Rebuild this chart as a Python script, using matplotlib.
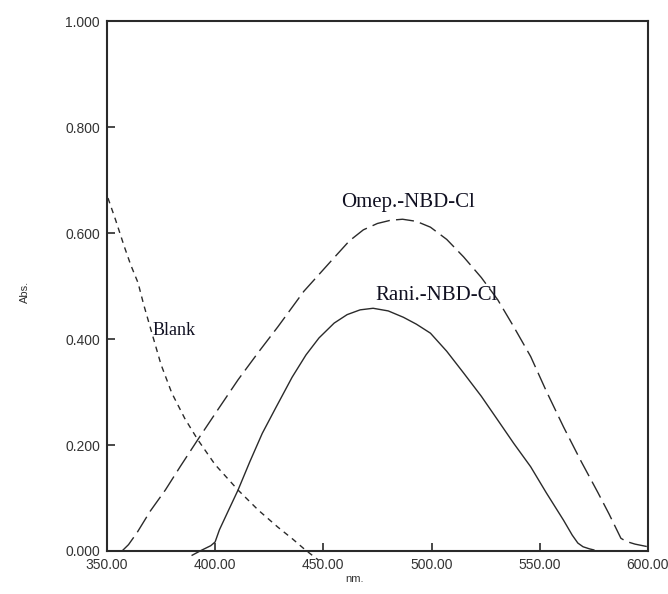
import matplotlib.pyplot as plt

# Omep.-NBD-Cl (long dashes)
omep_nm = [357, 360, 364, 370, 377, 384, 392, 401, 410.6, 420, 429, 441, 454, 462, 468.5,
           475, 481, 486.6, 493, 499.5, 507, 514.8, 523, 530.6, 538, 545.8, 553, 561, 569,
           576.9, 582, 587.5, 590, 594, 600]
omep_abs = [0.0, 0.012, 0.035, 0.075, 0.115, 0.16, 0.21, 0.265, 0.323, 0.375, 0.423, 0.49,
            0.549, 0.585, 0.606, 0.618, 0.624, 0.626, 0.622, 0.611, 0.588, 0.555, 0.516,
            0.474, 0.423, 0.367, 0.302, 0.234, 0.17, 0.11, 0.07, 0.024, 0.018, 0.013, 0.008]

# Rani.-NBD-Cl (solid)
rani_nm = [389.4, 394, 398, 400, 402, 406, 410.6, 416, 421.8, 428, 435.6, 442, 448, 455,
           461, 467, 473, 480, 487, 493, 499.5, 507, 514.8, 523, 530.6, 538, 545.8, 553,
           561, 565, 567.6, 570, 573, 575]
rani_abs = [-0.008, 0.002, 0.01, 0.017, 0.04, 0.075, 0.115, 0.168, 0.222, 0.27, 0.328, 0.37,
            0.402, 0.43, 0.446, 0.455, 0.458, 0.453, 0.441, 0.428, 0.411, 0.377, 0.336,
            0.292, 0.247, 0.203, 0.159, 0.11, 0.058, 0.03, 0.015, 0.008, 0.004, 0.002]

# Blank (short dashes)
blank_nm = [350.5, 354, 358, 361, 364.4, 367, 370.8, 375, 380, 386, 392, 400, 410.6, 420,
            429, 436, 441.7, 447.7]
blank_abs = [0.666, 0.625, 0.575, 0.54, 0.506, 0.465, 0.411, 0.352, 0.298, 0.25, 0.21,
             0.163, 0.115, 0.077, 0.045, 0.022, 0.002, -0.017]

xticks = [350, 400, 450, 500, 550, 600]
yticks = [0.0, 0.2, 0.4, 0.6, 0.8, 1.0]

col = '#2a2a2a'
serif = 'Liberation Serif'
sans = 'Liberation Sans'

fig = plt.figure(figsize=(6.68, 5.94), dpi=100)
ax = fig.add_axes([0.160, 0.0724, 0.810, 0.8922])

ax.plot(omep_nm, omep_abs, color=col, lw=1.0, dashes=(13, 4.5), clip_on=False)
ax.plot(rani_nm, rani_abs, color=col, lw=1.0, clip_on=False)
ax.plot(blank_nm, blank_abs, color=col, lw=1.0, dashes=(4, 3.5), clip_on=False)

ax.set_xlim(350, 600)
ax.set_ylim(0, 1.0)
ax.set_xticks(xticks)
ax.set_xticklabels([f'{v:.2f}' for v in xticks], fontfamily=sans, fontsize=10, color='#333333')
ax.set_yticks(yticks)
ax.set_yticklabels([f'{v:.3f}' for v in yticks], fontfamily=sans, fontsize=10, color='#333333')
ax.tick_params(direction='in', length=6, width=1.2, color=col, pad=5)

for s in ax.spines.values():
    s.set_linewidth(1.5)
    s.set_color(col)

ax.text(458, 0.649, 'Omep.-NBD-Cl', fontfamily=serif, fontsize=15, color='#111122')
ax.text(474, 0.474, 'Rani.-NBD-Cl', fontfamily=serif, fontsize=15, color='#111122')
ax.text(371.3, 0.408, 'Blank', fontfamily=serif, fontsize=13, color='#111122')

fig.text(25 / 668, 1 - 292 / 594, 'Abs.', rotation=90, ha='center', va='center',
         fontfamily=sans, fontsize=8, color='#333333')
fig.text(355 / 668, 1 - 579 / 594, 'nm.', ha='center', va='center',
         fontfamily=sans, fontsize=8, color='#333333')

fig.savefig('out.png', dpi=100)
